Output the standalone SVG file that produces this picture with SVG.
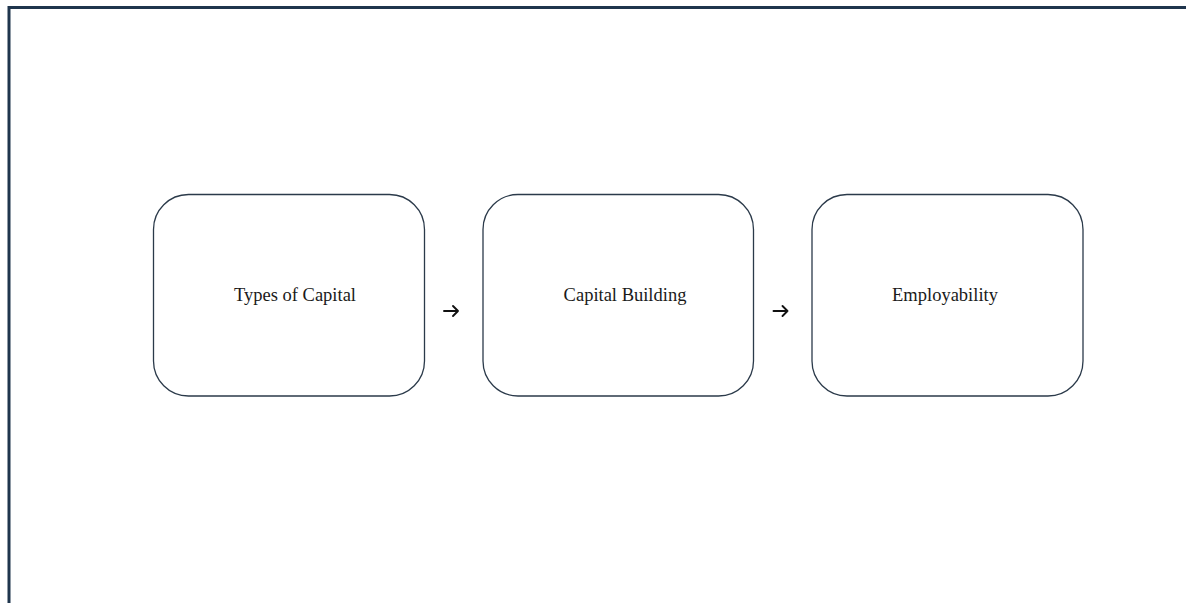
<svg xmlns="http://www.w3.org/2000/svg" width="1186" height="603" viewBox="0 0 1186 603">
<style>
.box{fill:#ffffff;stroke:#2b3a4a;stroke-width:1.3}
.lbl{font-family:"Liberation Serif","DejaVu Serif",serif;font-size:18.5px;fill:#1a1a1a;text-anchor:middle}
.con{fill:none;stroke:#111111;stroke-width:1.9;stroke-linecap:round;stroke-linejoin:round}
.frame{fill:none;stroke:#1f354d;stroke-width:3}
</style>
<rect width="1186" height="603" fill="#ffffff"/>
<path class="frame" d="M9,603 L9,7.5 L1186,7.5"/>
<g id="node-types">
<rect class="box" x="153.5" y="194.5" width="271" height="201.5" rx="35" ry="35"/>
<text class="lbl" x="295" y="301">Types of Capital</text>
</g>
<g id="node-building">
<rect class="box" x="483" y="194.5" width="270.5" height="201.5" rx="35" ry="35"/>
<text class="lbl" x="625" y="301">Capital Building</text>
</g>
<g id="node-employability">
<rect class="box" x="812" y="194.5" width="271" height="201.5" rx="35" ry="35"/>
<text class="lbl" x="945" y="301">Employability</text>
</g>
<g id="connectors">
<path class="con" d="M444,311 L458,311 M453,306 L458,311 L453,316"/>
<path class="con" d="M773.5,311 L787.5,311 M782.5,306 L787.5,311 L782.5,316"/>
</g>
</svg>
